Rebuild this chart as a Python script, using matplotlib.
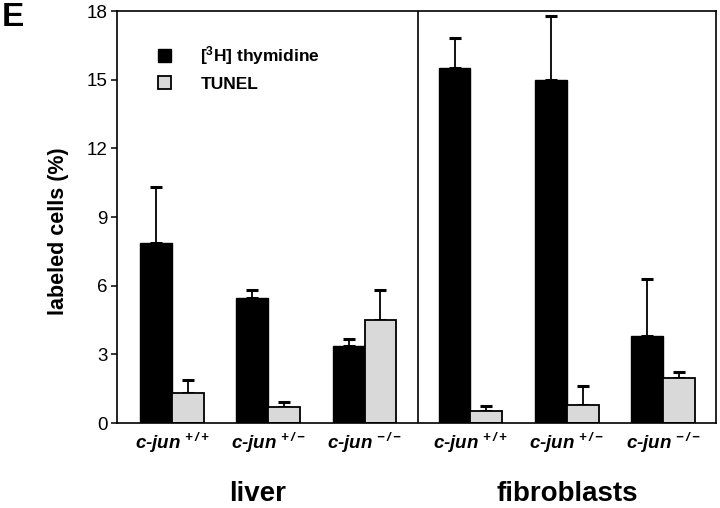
import numpy as np
import matplotlib
matplotlib.use("Agg")
import matplotlib.pyplot as plt
from matplotlib.transforms import blended_transform_factory

plt.rcParams['font.family'] = ['Liberation Sans', 'DejaVu Sans']
plt.rcParams['mathtext.fontset'] = 'custom'
plt.rcParams['mathtext.rm'] = 'Liberation Sans:bold:italic'
plt.rcParams['mathtext.it'] = 'Liberation Sans:bold:italic'
plt.rcParams['mathtext.bf'] = 'Liberation Sans:bold:italic'
plt.rcParams['mathtext.sf'] = 'Liberation Sans:bold'

# ---- data ----
genotypes = ['c-jun$^{\\,+/+}$', 'c-jun$^{\\,+/-}$', 'c-jun$^{\\,-/-}$']
groups = ['liver', 'fibroblasts']
series = ['[$^{\\mathsf{3}}$H] thymidine', 'TUNEL']
liver_thymidine = [7.85, 5.45, 3.35]
liver_thymidine_err = [2.45, 0.35, 0.32]
liver_tunel = [1.3, 0.72, 4.5]
liver_tunel_err = [0.57, 0.2, 1.3]
fibro_thymidine = [15.5, 15.0, 3.78]
fibro_thymidine_err = [1.3, 2.8, 2.5]
fibro_tunel = [0.52, 0.8, 1.98]
fibro_tunel_err = [0.22, 0.82, 0.25]
yticks = [0, 3, 6, 9, 12, 15, 18]

fig = plt.figure(figsize=(7.2, 5.08), dpi=100)
ax = fig.add_axes([117/720, 1-423/508, (716-117)/720, (423-11)/508])

w = 0.33
gap = 3.1
liver_x = np.arange(len(genotypes))
fibro_x = np.arange(len(genotypes)) + gap
all_x = np.concatenate([liver_x, fibro_x])
thy = liver_thymidine + fibro_thymidine
thy_err = liver_thymidine_err + fibro_thymidine_err
tun = liver_tunel + fibro_tunel
tun_err = liver_tunel_err + fibro_tunel_err

gray = '#d9d9d9'
ekw = dict(elinewidth=1.3, capthick=2.2, ecolor='black')
ax.bar(all_x - w/2, thy, width=w, color='black', edgecolor='black', linewidth=1.0,
       label=series[0], zorder=2)
ax.errorbar(all_x - w/2, thy, yerr=[np.zeros(len(thy)), thy_err], fmt='none',
            capsize=4.5, zorder=1, **ekw)
ax.bar(all_x + w/2, tun, width=w, color=gray, edgecolor='black', linewidth=1.3,
       label=series[1], zorder=2)
ax.errorbar(all_x + w/2, tun, yerr=[np.zeros(len(tun)), tun_err], fmt='none',
            capsize=4.5, zorder=1, **ekw)

ax.set_ylim(0, 18)
ax.set_xlim(-0.571, 5.65)
ax.axvline((liver_x[-1] + fibro_x[0]) / 2, color='black', lw=1.2, zorder=3)

ax.set_yticks(yticks)
ax.set_yticklabels([str(t) for t in yticks], fontsize=13.5)
ax.tick_params(axis='y', direction='out', length=4, width=1.1, pad=3)
ax.set_xticks(all_x)
ax.set_xticklabels(genotypes * 2, fontsize=13.5, fontstyle='italic', fontweight='bold')
ax.tick_params(axis='x', length=0, pad=6)
for s in ax.spines.values():
    s.set_linewidth(1.2)

ax.set_ylabel('labeled cells (%)', fontsize=15.5, fontweight='bold')
ax.yaxis.set_label_coords(-0.080, 0.465)

trans = blended_transform_factory(ax.transData, ax.transAxes)
ax.text(liver_x.mean() - 0.11, -0.172, groups[0], transform=trans, ha='center', va='center',
        fontsize=20, fontweight='bold')
ax.text(fibro_x.mean(), -0.172, groups[1], transform=trans, ha='center', va='center',
        fontsize=20, fontweight='bold')

leg = ax.legend(loc='upper left', bbox_to_anchor=(0.068, 0.92), frameon=False,
                fontsize=12.5, handlelength=0.75, handleheight=0.75,
                handletextpad=1.7, labelspacing=0.55, borderpad=0, borderaxespad=0)
for t in leg.get_texts():
    t.set_fontweight('bold')

fig.text(0.003, 0.997, 'E', fontsize=24, fontweight='bold', ha='left', va='top')

fig.savefig('out.png', dpi=100)
